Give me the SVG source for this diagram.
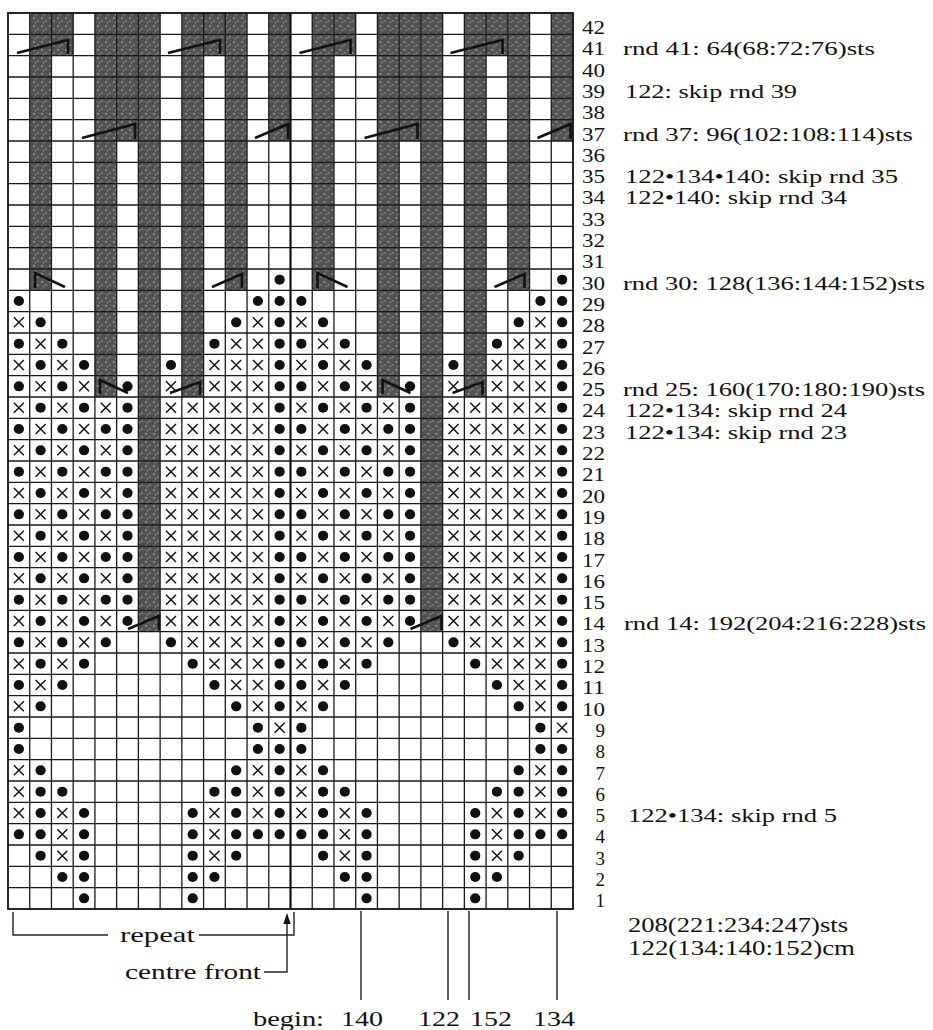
<svg xmlns="http://www.w3.org/2000/svg" xmlns:xlink="http://www.w3.org/1999/xlink" width="933" height="1030" viewBox="0 0 933 1030">
<style>
text{font-family:"Liberation Serif","Times New Roman",serif;font-size:19px;fill:#111}
.lab{text-anchor:end;font-size:19px}
.big{font-size:21px}
.sm{font-size:20px}
.g{stroke:#1a1a1a;stroke-width:1.3;fill:none}
.x{stroke:#111;stroke-width:1.45;fill:none;vector-effect:non-scaling-stroke}
.dec{stroke:#111;stroke-width:2.6;fill:none;stroke-linejoin:miter}
.ln{stroke:#222;stroke-width:1.4;fill:none}
.sh{fill:url(#tex)}
</style>
<defs>
<pattern id="tex" patternUnits="userSpaceOnUse" width="8" height="8">
<rect width="8" height="8" fill="#525252"/>
<circle cx="2" cy="2" r="1.1" fill="#9a9a9a"/>
<circle cx="6" cy="5" r="1" fill="#8a8a8a"/>
<circle cx="3.5" cy="6.5" r="0.8" fill="#a0a0a0"/>
</pattern>
<circle id="d" r="0.235" fill="#111"/>
<path id="x" d="M-0.23,-0.235L0.23,0.235M0.23,-0.235L-0.23,0.235" class="x"/>
<g id="ev">
<use href="#x" x="0.5" y="0.5"/><use href="#d" x="1.5" y="0.5"/><use href="#x" x="2.5" y="0.5"/><use href="#d" x="3.5" y="0.5"/><use href="#x" x="4.5" y="0.5"/><use href="#d" x="5.5" y="0.5"/>
<use href="#x" x="7.5" y="0.5"/><use href="#x" x="8.5" y="0.5"/><use href="#x" x="9.5" y="0.5"/><use href="#x" x="10.5" y="0.5"/><use href="#x" x="11.5" y="0.5"/><use href="#d" x="12.5" y="0.5"/>
</g>
<g id="od">
<use href="#d" x="0.5" y="0.5"/><use href="#x" x="1.5" y="0.5"/><use href="#d" x="2.5" y="0.5"/><use href="#x" x="3.5" y="0.5"/><use href="#d" x="4.5" y="0.5"/><use href="#d" x="5.5" y="0.5"/>
<use href="#x" x="7.5" y="0.5"/><use href="#x" x="8.5" y="0.5"/><use href="#x" x="9.5" y="0.5"/><use href="#x" x="10.5" y="0.5"/><use href="#x" x="11.5" y="0.5"/><use href="#d" x="12.5" y="0.5"/>
</g>
</defs>
<rect width="933" height="1030" fill="#ffffff"/>

<g id="shading">
<g id="sh1" class="sh">
<rect x="29.73" y="13" width="21.73" height="277.33"/>
<rect x="51.46" y="13" width="21.73" height="42.67"/>
<rect x="94.92" y="13" width="21.73" height="384"/>
<rect x="116.65" y="13" width="21.73" height="128"/>
<rect x="138.38" y="13" width="21.73" height="618.67"/>
<rect x="181.85" y="13" width="21.73" height="384"/>
<rect x="203.58" y="13" width="21.73" height="42.67"/>
<rect x="225.31" y="13" width="21.73" height="277.33"/>
<rect x="268.77" y="13" width="21.73" height="128"/>
</g>
<use href="#sh1" x="282.5"/>
</g>

<g id="grid">
<path class="g" d="M29.73,13V909M51.46,13V909M73.19,13V909M94.92,13V909M116.65,13V909M138.38,13V909M160.12,13V909M181.85,13V909M203.58,13V909M225.31,13V909M247.04,13V909M268.77,13V909M312.23,13V909M333.96,13V909M355.69,13V909M377.42,13V909M399.15,13V909M420.88,13V909M442.62,13V909M464.35,13V909M486.08,13V909M507.81,13V909M529.54,13V909M551.27,13V909"/>
<path class="g" d="M8,34.33H573M8,55.67H573M8,77H573M8,98.33H573M8,119.67H573M8,141H573M8,162.33H573M8,183.67H573M8,205H573M8,226.33H573M8,247.67H573M8,269H573M8,290.33H573M8,311.67H573M8,333H573M8,354.33H573M8,375.67H573M8,397H573M8,418.33H573M8,439.67H573M8,461H573M8,482.33H573M8,503.67H573M8,525H573M8,546.33H573M8,567.67H573M8,589H573M8,610.33H573M8,631.67H573M8,653H573M8,674.33H573M8,695.67H573M8,717H573M8,738.33H573M8,759.67H573M8,781H573M8,802.33H573M8,823.67H573M8,845H573M8,866.33H573M8,887.67H573"/>
<path d="M290.5,13V909" stroke="#111" stroke-width="2.2" fill="none"/>
<rect x="8" y="13" width="565" height="896" fill="none" stroke="#111" stroke-width="1.8"/>
</g>

<g id="stitches">
<g id="rm" transform="translate(8,13) scale(21.7308,21.3333)">
<use href="#d" x="12.5" y="12.5"/>
<use href="#d" x="0.5" y="13.5"/><use href="#d" x="11.5" y="13.5"/><use href="#d" x="12.5" y="13.5"/>
<use href="#x" x="0.5" y="14.5"/><use href="#d" x="1.5" y="14.5"/><use href="#d" x="10.5" y="14.5"/><use href="#x" x="11.5" y="14.5"/><use href="#d" x="12.5" y="14.5"/>
<use href="#d" x="0.5" y="15.5"/><use href="#x" x="1.5" y="15.5"/><use href="#d" x="2.5" y="15.5"/><use href="#d" x="9.5" y="15.5"/><use href="#x" x="10.5" y="15.5"/><use href="#x" x="11.5" y="15.5"/><use href="#d" x="12.5" y="15.5"/>
<use href="#x" x="0.5" y="16.5"/><use href="#d" x="1.5" y="16.5"/><use href="#x" x="2.5" y="16.5"/><use href="#d" x="3.5" y="16.5"/><use href="#d" x="7.5" y="16.5"/><use href="#x" x="9.5" y="16.5"/><use href="#x" x="10.5" y="16.5"/><use href="#x" x="11.5" y="16.5"/><use href="#d" x="12.5" y="16.5"/>
<use href="#d" x="0.5" y="17.5"/><use href="#x" x="1.5" y="17.5"/><use href="#d" x="2.5" y="17.5"/><use href="#x" x="3.5" y="17.5"/><use href="#d" x="5.5" y="17.5"/><use href="#x" x="7.5" y="17.5"/><use href="#x" x="9.5" y="17.5"/><use href="#x" x="10.5" y="17.5"/><use href="#x" x="11.5" y="17.5"/><use href="#d" x="12.5" y="17.5"/>
<use href="#ev" y="18"/><use href="#od" y="19"/><use href="#ev" y="20"/><use href="#od" y="21"/><use href="#ev" y="22"/><use href="#od" y="23"/><use href="#ev" y="24"/><use href="#od" y="25"/><use href="#ev" y="26"/><use href="#od" y="27"/><use href="#ev" y="28"/>
<use href="#d" x="0.5" y="29.5"/><use href="#x" x="1.5" y="29.5"/><use href="#d" x="2.5" y="29.5"/><use href="#x" x="3.5" y="29.5"/><use href="#d" x="4.5" y="29.5"/><use href="#d" x="7.5" y="29.5"/><use href="#x" x="8.5" y="29.5"/><use href="#x" x="9.5" y="29.5"/><use href="#x" x="10.5" y="29.5"/><use href="#x" x="11.5" y="29.5"/><use href="#d" x="12.5" y="29.5"/>
<use href="#x" x="0.5" y="30.5"/><use href="#d" x="1.5" y="30.5"/><use href="#x" x="2.5" y="30.5"/><use href="#d" x="3.5" y="30.5"/><use href="#d" x="8.5" y="30.5"/><use href="#x" x="9.5" y="30.5"/><use href="#x" x="10.5" y="30.5"/><use href="#x" x="11.5" y="30.5"/><use href="#d" x="12.5" y="30.5"/>
<use href="#d" x="0.5" y="31.5"/><use href="#x" x="1.5" y="31.5"/><use href="#d" x="2.5" y="31.5"/><use href="#d" x="9.5" y="31.5"/><use href="#x" x="10.5" y="31.5"/><use href="#x" x="11.5" y="31.5"/><use href="#d" x="12.5" y="31.5"/>
<use href="#x" x="0.5" y="32.5"/><use href="#d" x="1.5" y="32.5"/><use href="#d" x="10.5" y="32.5"/><use href="#x" x="11.5" y="32.5"/><use href="#d" x="12.5" y="32.5"/>
<use href="#d" x="0.5" y="33.5"/><use href="#d" x="11.5" y="33.5"/><use href="#x" x="12.5" y="33.5"/>
<use href="#d" x="0.5" y="34.5"/><use href="#d" x="11.5" y="34.5"/><use href="#d" x="12.5" y="34.5"/>
<use href="#x" x="0.5" y="35.5"/><use href="#d" x="1.5" y="35.5"/><use href="#d" x="10.5" y="35.5"/><use href="#x" x="11.5" y="35.5"/><use href="#d" x="12.5" y="35.5"/>
<use href="#x" x="0.5" y="36.5"/><use href="#d" x="1.5" y="36.5"/><use href="#d" x="2.5" y="36.5"/><use href="#d" x="9.5" y="36.5"/><use href="#d" x="10.5" y="36.5"/><use href="#x" x="11.5" y="36.5"/><use href="#d" x="12.5" y="36.5"/>
<use href="#x" x="0.5" y="37.5"/><use href="#d" x="1.5" y="37.5"/><use href="#x" x="2.5" y="37.5"/><use href="#d" x="3.5" y="37.5"/><use href="#d" x="8.5" y="37.5"/><use href="#x" x="9.5" y="37.5"/><use href="#d" x="10.5" y="37.5"/><use href="#x" x="11.5" y="37.5"/><use href="#d" x="12.5" y="37.5"/>
<use href="#d" x="0.5" y="38.5"/><use href="#d" x="1.5" y="38.5"/><use href="#x" x="2.5" y="38.5"/><use href="#d" x="3.5" y="38.5"/><use href="#d" x="8.5" y="38.5"/><use href="#x" x="9.5" y="38.5"/><use href="#d" x="10.5" y="38.5"/><use href="#d" x="11.5" y="38.5"/><use href="#d" x="12.5" y="38.5"/>
<use href="#d" x="1.5" y="39.5"/><use href="#x" x="2.5" y="39.5"/><use href="#d" x="3.5" y="39.5"/><use href="#d" x="8.5" y="39.5"/><use href="#x" x="9.5" y="39.5"/><use href="#d" x="10.5" y="39.5"/>
<use href="#d" x="2.5" y="40.5"/><use href="#d" x="3.5" y="40.5"/><use href="#d" x="8.5" y="40.5"/><use href="#d" x="9.5" y="40.5"/>
<use href="#d" x="3.5" y="41.5"/><use href="#d" x="8.5" y="41.5"/>
</g>
<use href="#rm" x="282.5"/>
</g>

<g id="decreases">
<path id="dc1" class="dec" d="M17,53L68,40V54M168,53L220,40V54M82,138L135,124V139M255,138L288,124V139M35,288V273L65,287M212,287L242,274V288M100,394V380L128,393M170,393L200,382V395M128,629L159,616V630"/>
<use href="#dc1" x="282.5"/>
</g>

<g id="row-labels">
<text class="lab" x="605" y="34" textLength="23" lengthAdjust="spacingAndGlyphs">42</text>
<text class="lab" x="605" y="55.3" textLength="23" lengthAdjust="spacingAndGlyphs">41</text>
<text class="lab" x="605" y="76.6" textLength="23" lengthAdjust="spacingAndGlyphs">40</text>
<text class="lab" x="605" y="97.9" textLength="23" lengthAdjust="spacingAndGlyphs">39</text>
<text class="lab" x="605" y="119.2" textLength="23" lengthAdjust="spacingAndGlyphs">38</text>
<text class="lab" x="605" y="140.5" textLength="23" lengthAdjust="spacingAndGlyphs">37</text>
<text class="lab" x="605" y="161.8" textLength="23" lengthAdjust="spacingAndGlyphs">36</text>
<text class="lab" x="605" y="183.1" textLength="23" lengthAdjust="spacingAndGlyphs">35</text>
<text class="lab" x="605" y="204.4" textLength="23" lengthAdjust="spacingAndGlyphs">34</text>
<text class="lab" x="605" y="225.7" textLength="23" lengthAdjust="spacingAndGlyphs">33</text>
<text class="lab" x="605" y="247" textLength="23" lengthAdjust="spacingAndGlyphs">32</text>
<text class="lab" x="605" y="268.3" textLength="23" lengthAdjust="spacingAndGlyphs">31</text>
<text class="lab" x="605" y="289.6" textLength="23" lengthAdjust="spacingAndGlyphs">30</text>
<text class="lab" x="605" y="310.9" textLength="23" lengthAdjust="spacingAndGlyphs">29</text>
<text class="lab" x="605" y="332.2" textLength="23" lengthAdjust="spacingAndGlyphs">28</text>
<text class="lab" x="605" y="353.5" textLength="23" lengthAdjust="spacingAndGlyphs">27</text>
<text class="lab" x="605" y="374.8" textLength="23" lengthAdjust="spacingAndGlyphs">26</text>
<text class="lab" x="605" y="396.1" textLength="23" lengthAdjust="spacingAndGlyphs">25</text>
<text class="lab" x="605" y="417.4" textLength="23" lengthAdjust="spacingAndGlyphs">24</text>
<text class="lab" x="605" y="438.7" textLength="23" lengthAdjust="spacingAndGlyphs">23</text>
<text class="lab" x="605" y="460" textLength="23" lengthAdjust="spacingAndGlyphs">22</text>
<text class="lab" x="605" y="481.3" textLength="23" lengthAdjust="spacingAndGlyphs">21</text>
<text class="lab" x="605" y="502.6" textLength="23" lengthAdjust="spacingAndGlyphs">20</text>
<text class="lab" x="605" y="523.9" textLength="23" lengthAdjust="spacingAndGlyphs">19</text>
<text class="lab" x="605" y="545.2" textLength="23" lengthAdjust="spacingAndGlyphs">18</text>
<text class="lab" x="605" y="566.5" textLength="23" lengthAdjust="spacingAndGlyphs">17</text>
<text class="lab" x="605" y="587.8" textLength="23" lengthAdjust="spacingAndGlyphs">16</text>
<text class="lab" x="605" y="609.1" textLength="23" lengthAdjust="spacingAndGlyphs">15</text>
<text class="lab" x="605" y="630.4" textLength="23" lengthAdjust="spacingAndGlyphs">14</text>
<text class="lab" x="605" y="651.7" textLength="23" lengthAdjust="spacingAndGlyphs">13</text>
<text class="lab" x="605" y="673" textLength="23" lengthAdjust="spacingAndGlyphs">12</text>
<text class="lab" x="605" y="694.3" textLength="23" lengthAdjust="spacingAndGlyphs">11</text>
<text class="lab" x="605" y="715.6" textLength="23" lengthAdjust="spacingAndGlyphs">10</text>
<text class="lab" x="605" y="736.9">9</text>
<text class="lab" x="605" y="758.2">8</text>
<text class="lab" x="605" y="779.5">7</text>
<text class="lab" x="605" y="800.8">6</text>
<text class="lab" x="605" y="822.1">5</text>
<text class="lab" x="605" y="843.4">4</text>
<text class="lab" x="605" y="864.7">3</text>
<text class="lab" x="605" y="886">2</text>
<text class="lab" x="605" y="907.3">1</text>
</g>

<g id="notes">
<text x="623" y="55.3" textLength="252" lengthAdjust="spacingAndGlyphs">rnd 41: 64(68:72:76)sts</text>
<text x="625" y="97.9" textLength="172" lengthAdjust="spacingAndGlyphs">122: skip rnd 39</text>
<text x="623" y="140.5" textLength="290" lengthAdjust="spacingAndGlyphs">rnd 37: 96(102:108:114)sts</text>
<text x="625" y="183.1" textLength="273" lengthAdjust="spacingAndGlyphs">122•134•140: skip rnd 35</text>
<text x="625" y="204.4" textLength="222" lengthAdjust="spacingAndGlyphs">122•140: skip rnd 34</text>
<text x="623" y="289.6" textLength="302" lengthAdjust="spacingAndGlyphs">rnd 30: 128(136:144:152)sts</text>
<text x="623" y="396.1" textLength="302" lengthAdjust="spacingAndGlyphs">rnd 25: 160(170:180:190)sts</text>
<text x="625" y="417.4" textLength="222" lengthAdjust="spacingAndGlyphs">122•134: skip rnd 24</text>
<text x="625" y="438.7" textLength="222" lengthAdjust="spacingAndGlyphs">122•134: skip rnd 23</text>
<text x="624" y="630.4" textLength="302" lengthAdjust="spacingAndGlyphs">rnd 14: 192(204:216:228)sts</text>
<text x="628" y="822.1" textLength="209" lengthAdjust="spacingAndGlyphs">122•134: skip rnd 5</text>
<text class="sm" x="628" y="932" textLength="220" lengthAdjust="spacingAndGlyphs">208(221:234:247)sts</text>
<text class="sm" x="628" y="955" textLength="227" lengthAdjust="spacingAndGlyphs">122(134:140:152)cm</text>
</g>

<g id="bottom">
<path class="ln" d="M13,912V935H108M199,935H294V912"/>
<path class="ln" d="M264,972H287V922"/>
<path d="M287,913L283.3,924L290.7,924Z" fill="#111"/>
<path class="ln" d="M361,911V1000M448,911V1000M469,911V1000M557,911V1000"/>
<text class="big" x="120" y="942" textLength="75" lengthAdjust="spacingAndGlyphs">repeat</text>
<text class="big" x="125" y="979" textLength="136" lengthAdjust="spacingAndGlyphs">centre front</text>
<text class="big" x="253" y="1026" textLength="71" lengthAdjust="spacingAndGlyphs">begin:</text>
<text class="big" x="341" y="1026" textLength="42" lengthAdjust="spacingAndGlyphs">140</text>
<text class="big" x="418" y="1026" textLength="42" lengthAdjust="spacingAndGlyphs">122</text>
<text class="big" x="470" y="1026" textLength="42" lengthAdjust="spacingAndGlyphs">152</text>
<text class="big" x="533" y="1026" textLength="42" lengthAdjust="spacingAndGlyphs">134</text>
</g>
</svg>
